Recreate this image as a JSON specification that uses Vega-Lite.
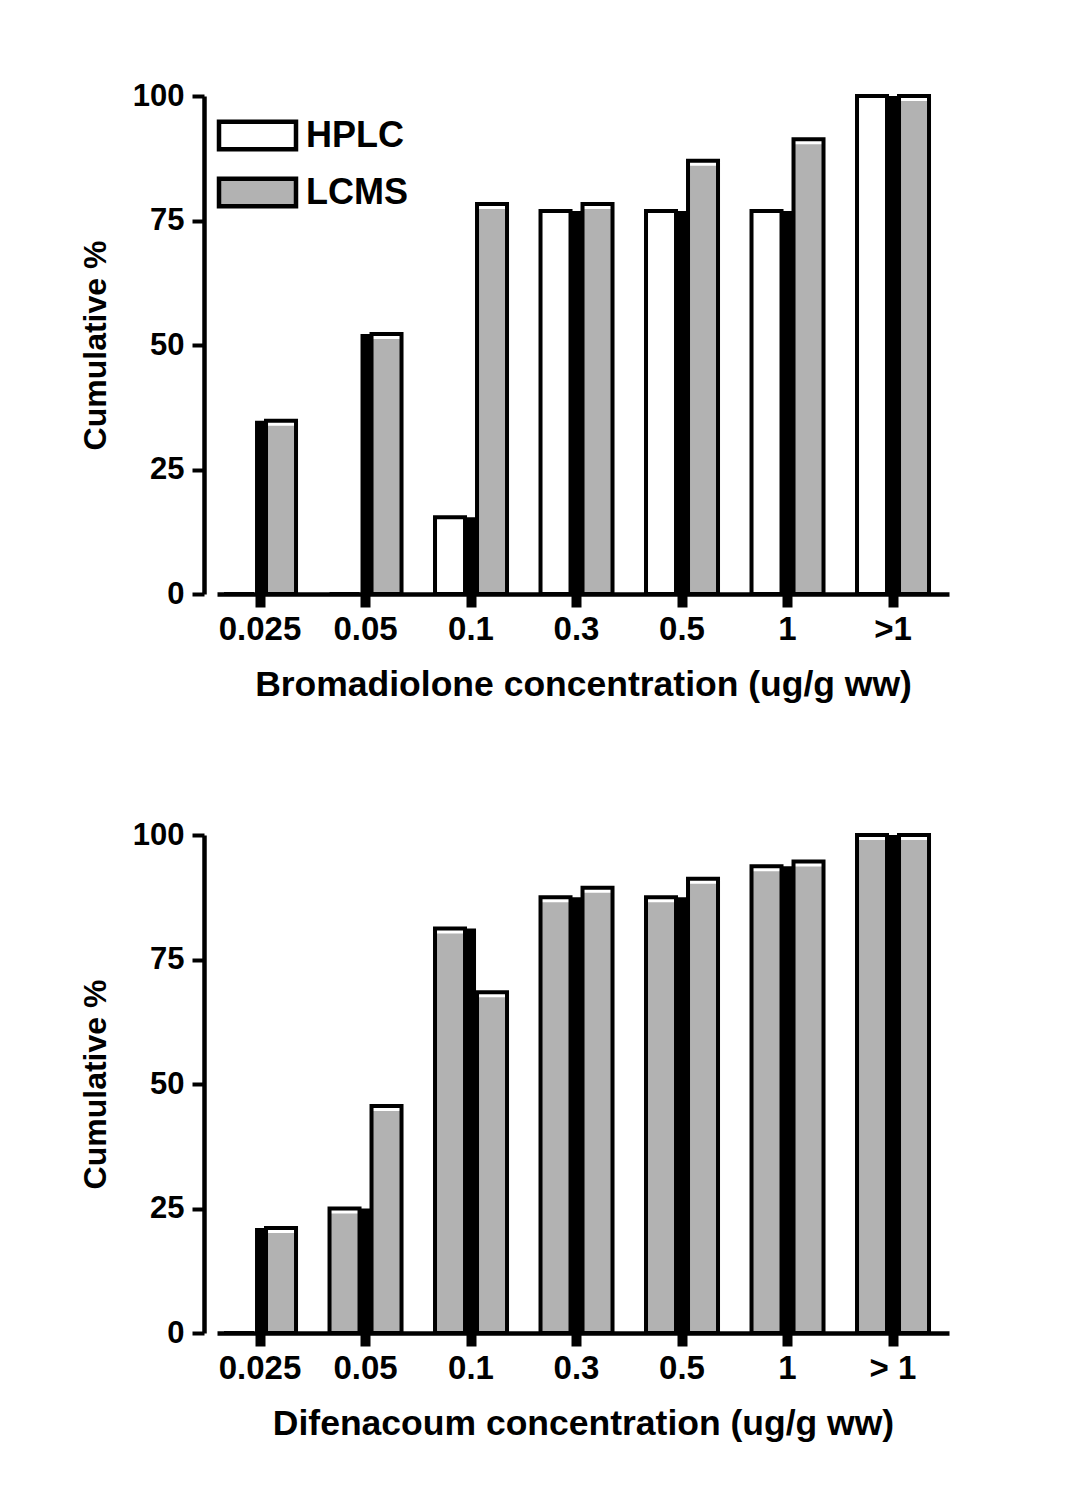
{
  "$schema": "https://vega.github.io/schema/vega-lite/v6.json",
  "padding": {"left": 79, "top": 80, "right": 10, "bottom": 10},
  "background": "white",
  "config": {
    "font": "Liberation Sans",
    "view": {"stroke": null},
    "axis": {
      "domainColor": "black", "domainWidth": 4.5, "tickColor": "black",
      "labelColor": "black", "titleColor": "black",
      "labelFont": "Liberation Sans", "titleFont": "Liberation Sans",
      "labelFontWeight": "bold", "titleFontWeight": "bold", "grid": false
    },
    "concat": {"spacing": 116}
  },
  "datasets": {
    "bromadiolone": [
      {"conc": "0.025", "HPLC": 0, "LCMS": 34.8},
      {"conc": "0.05", "HPLC": 0, "LCMS": 52.2},
      {"conc": "0.1", "HPLC": 15.4, "LCMS": 78.3},
      {"conc": "0.3", "HPLC": 76.9, "LCMS": 78.3},
      {"conc": "0.5", "HPLC": 76.9, "LCMS": 87.0},
      {"conc": "1", "HPLC": 76.9, "LCMS": 91.3},
      {"conc": ">1", "HPLC": 100, "LCMS": 100}
    ],
    "difenacoum": [
      {"conc": "0.025", "HPLC": 0, "LCMS": 21.1},
      {"conc": "0.05", "HPLC": 25, "LCMS": 45.6},
      {"conc": "0.1", "HPLC": 81.25, "LCMS": 68.4},
      {"conc": "0.3", "HPLC": 87.5, "LCMS": 89.4},
      {"conc": "0.5", "HPLC": 87.5, "LCMS": 91.2},
      {"conc": "1", "HPLC": 93.75, "LCMS": 94.7},
      {"conc": "> 1", "HPLC": 100, "LCMS": 100}
    ]
  },
  "vconcat": [
    {
      "width": 732,
      "height": 498,
      "data": {"name": "bromadiolone"},
      "encoding": {
        "x": {
          "field": "conc", "type": "nominal", "sort": null,
          "scale": {"domain": ["0.025", "0.05", "0.1", "0.3", "0.5", "1", ">1"], "paddingInner": 0.3175, "paddingOuter": 0.128, "align": 0.26},
          "axis": {"title": "Bromadiolone concentration (ug/g ww)", "labelAngle": 0, "labelFontSize": 33, "titleFontSize": 35.5, "tickSize": 13, "tickWidth": 10, "labelPadding": 6, "titlePadding": 21}
        }
      },
      "layer": [
        {
          "transform": [{"fold": ["HPLC", "LCMS"], "as": ["method", "value"]}],
          "mark": {"type": "bar", "yOffset": 5, "clip": true},
          "encoding": {
            "xOffset": {"field": "method", "type": "nominal", "sort": ["HPLC", "LCMS"], "scale": {"paddingInner": 0.2857, "paddingOuter": 0}},
            "y": {
              "field": "value", "type": "quantitative",
              "scale": {"domain": [0, 100], "nice": false},
              "axis": {"title": "Cumulative %", "values": [0, 25, 50, 75, 100], "offset": 13, "tickSize": 12, "tickWidth": 4, "labelFontSize": 31, "labelPadding": 8, "titleFontSize": 32, "titlePadding": 20}
            },
            "fill": {
              "field": "method", "type": "nominal",
              "scale": {"domain": ["HPLC", "LCMS"], "range": ["white", "#b2b2b2"]},
              "legend": {
                "orient": "none", "legendX": 19, "legendY": 18, "title": null, "padding": 0,
                "symbolType": "M-2,-0.72H2V0.72H-2Z", "symbolSize": 1482,
                "symbolStrokeColor": "black", "symbolStrokeWidth": 4.5, "symbolOpacity": 1,
                "labelFontSize": 36, "labelFontWeight": "bold", "labelFont": "Liberation Sans", "labelColor": "black",
                "labelOffset": 27, "rowPadding": 10
              }
            }
          }
        },
        {
          "transform": [{"fold": ["HPLC", "LCMS"], "as": ["method", "value"]}],
          "mark": {"type": "bar", "fill": "transparent", "stroke": "black", "strokeWidth": 4},
          "encoding": {
            "xOffset": {"field": "method", "type": "nominal", "sort": ["HPLC", "LCMS"]},
            "y": {"field": "value", "type": "quantitative", "title": "Cumulative %"}
          }
        },
        {
          "transform": [{"filter": "datum.HPLC > 0"}],
          "mark": {"type": "bar", "width": 10, "fill": "black"},
          "encoding": {
            "y": {"field": "HPLC", "type": "quantitative", "title": "Cumulative %"}
          }
        },
        {
          "transform": [{"filter": "datum.HPLC == 0"}],
          "mark": {"type": "bar", "width": 10, "fill": "black"},
          "encoding": {
            "y": {"field": "LCMS", "type": "quantitative", "title": "Cumulative %"}
          }
        }
      ]
    },
    {
      "width": 732,
      "height": 498,
      "data": {"name": "difenacoum"},
      "encoding": {
        "x": {
          "field": "conc", "type": "nominal", "sort": null,
          "scale": {"domain": ["0.025", "0.05", "0.1", "0.3", "0.5", "1", "> 1"], "paddingInner": 0.3175, "paddingOuter": 0.128, "align": 0.26},
          "axis": {"title": "Difenacoum concentration (ug/g ww)", "labelAngle": 0, "labelFontSize": 33, "titleFontSize": 35.5, "tickSize": 13, "tickWidth": 10, "labelPadding": 6, "titlePadding": 21}
        }
      },
      "layer": [
        {
          "transform": [{"fold": ["HPLC", "LCMS"], "as": ["method", "value"]}],
          "mark": {"type": "bar", "yOffset": 5, "clip": true, "fill": "#b2b2b2"},
          "encoding": {
            "xOffset": {"field": "method", "type": "nominal", "sort": ["HPLC", "LCMS"], "scale": {"paddingInner": 0.2857, "paddingOuter": 0}},
            "y": {
              "field": "value", "type": "quantitative",
              "scale": {"domain": [0, 100], "nice": false},
              "axis": {"title": "Cumulative %", "values": [0, 25, 50, 75, 100], "offset": 13, "tickSize": 12, "tickWidth": 4, "labelFontSize": 31, "labelPadding": 8, "titleFontSize": 32, "titlePadding": 20}
            }
          }
        },
        {
          "transform": [{"fold": ["HPLC", "LCMS"], "as": ["method", "value"]}],
          "mark": {"type": "bar", "fill": "transparent", "stroke": "black", "strokeWidth": 4},
          "encoding": {
            "xOffset": {"field": "method", "type": "nominal", "sort": ["HPLC", "LCMS"]},
            "y": {"field": "value", "type": "quantitative", "title": "Cumulative %"}
          }
        },
        {
          "transform": [{"filter": "datum.HPLC > 0"}],
          "mark": {"type": "bar", "width": 10, "fill": "black"},
          "encoding": {
            "y": {"field": "HPLC", "type": "quantitative", "title": "Cumulative %"}
          }
        },
        {
          "transform": [{"filter": "datum.HPLC == 0"}],
          "mark": {"type": "bar", "width": 10, "fill": "black"},
          "encoding": {
            "y": {"field": "LCMS", "type": "quantitative", "title": "Cumulative %"}
          }
        }
      ]
    }
  ]
}
